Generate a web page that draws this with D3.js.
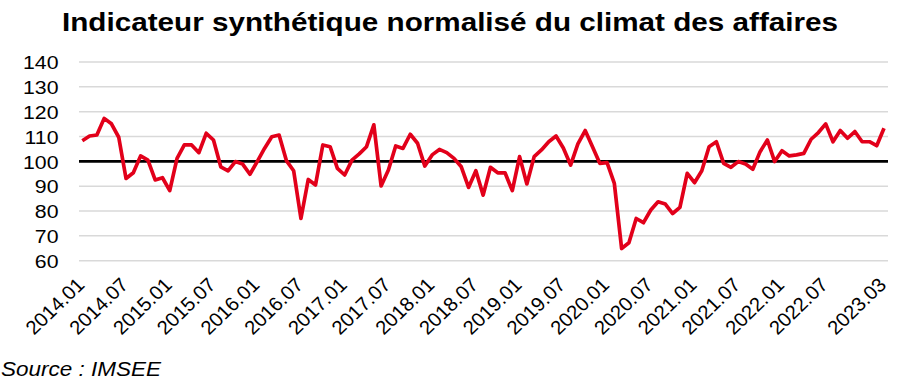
<!DOCTYPE html>
<html>
<head>
<meta charset="utf-8">
<script src="https://cdn.jsdelivr.net/npm/d3@7"></script>
<style>
    body { margin: 0; background: #fff; }
    svg { display: block; font-family: "Liberation Sans", Arial, sans-serif; }
</style>
</head>
<body>
<svg id="chart" width="900" height="383"></svg>
<script>
// indicateur mensuel, 2014.01 -> 2023.03
var values = [
    108.3, 110.2, 110.6, 117.3, 115.1, 109.7, 93.1, 95.4, 102.2, 100.5,
    92.5, 93.4, 88.2, 101.2, 106.6, 106.6, 103.5, 111.3, 108.6, 97.8,
    96.2, 99.9, 98.9, 94.8, 99.9, 105.2, 109.9, 110.6, 100.3, 96.2,
    77.0, 92.7, 90.5, 106.6, 105.9, 97.2, 94.5, 100.5, 103.0, 105.9,
    114.7, 90.1, 96.5, 106.2, 105.2, 110.9, 107.3, 98.1, 102.6, 104.8,
    103.5, 101.2, 97.8, 89.5, 96.2, 86.4, 97.6, 95.4, 95.4, 88.2,
    101.9, 90.9, 101.9, 104.6, 107.9, 110.2, 105.4, 98.5, 107.0, 112.4,
    105.9, 99.2, 99.5, 91.1, 64.9, 67.2, 77.0, 75.3, 80.4, 83.7,
    82.8, 79.0, 81.5, 95.2, 91.4, 96.2, 105.9, 107.9, 99.2, 97.6,
    99.9, 98.9, 96.8, 103.9, 108.6, 99.9, 104.3, 102.2, 102.6, 103.2,
    108.9, 111.6, 115.1, 107.9, 112.4, 109.3, 112.0, 107.9, 107.9, 106.3,
    113.3
];

var years = [2014, 2015, 2016, 2017, 2018, 2019, 2020, 2021, 2022, 2023];

var tickLabels = [
    "2014.01", "2014.07", "2015.01", "2015.07", "2016.01", "2016.07",
    "2017.01", "2017.07", "2018.01", "2018.07", "2019.01", "2019.07",
    "2020.01", "2020.07", "2021.01", "2021.07", "2022.01", "2022.07",
    "2023.03"
];

var yTicks = [60, 70, 80, 90, 100, 110, 120, 130, 140];

// month categories built from the years list
var months = [];
years.forEach(function (y) {
    for (var m = 1; m <= 12; m++) {
        months.push(y + "." + (m < 10 ? "0" + m : m));
    }
});
months = months.slice(0, values.length);

var svg = d3.select("#chart");

var xs = d3.scalePoint().domain(months).range([82.3, 884]);
var ys = d3.scaleLinear().domain([60, 140]).range([260.7, 62]);

var gridLeft = 79, gridRight = 888;
var stretch = 1.15; // the text in the original is a bit wider than Arial

// title
svg.append("text")
    .attr("x", 62)
    .attr("y", 31)
    .attr("font-size", 25.5)
    .attr("font-weight", "bold")
    .attr("fill", "#000")
    .attr("textLength", 776)
    .attr("lengthAdjust", "spacingAndGlyphs")
    .text("Indicateur synthétique normalisé du climat des affaires");

// horizontal gridlines
svg.append("g").selectAll("line").data(yTicks.filter(function (d) { return d !== 100; }))
    .enter().append("line")
    .attr("x1", gridLeft)
    .attr("x2", gridRight)
    .attr("y1", function (d) { return ys(d); })
    .attr("y2", function (d) { return ys(d); })
    .attr("stroke", "#d9d9d9")
    .attr("stroke-width", 1.5);

// y axis labels
var yAxis = d3.axisLeft(ys).tickValues(yTicks).tickSize(0).tickPadding(0);
var gy = svg.append("g").attr("transform", "translate(58.5,0)").call(yAxis);
gy.select(".domain").remove();
gy.selectAll("text")
    .attr("font-family", "Liberation Sans, Arial, sans-serif")
    .attr("font-size", 18.5)
    .attr("fill", "#000")
    .attr("x", 0)
    .attr("dy", "0.36em")
    .attr("transform", "scale(" + stretch + ",1)");

// reference line at 100
svg.append("line")
    .attr("x1", gridLeft)
    .attr("x2", gridRight)
    .attr("y1", ys(100))
    .attr("y2", ys(100))
    .attr("stroke", "#000")
    .attr("stroke-width", 2.6);

// series line
var line = d3.line()
    .x(function (d, i) { return xs(months[i]); })
    .y(function (d) { return ys(d); });

svg.append("path")
    .datum(values)
    .attr("d", line)
    .attr("fill", "none")
    .attr("stroke", "#e2001a")
    .attr("stroke-width", 3.7)
    .attr("stroke-linejoin", "round");

// x axis labels, rotated
var xAxis = d3.axisBottom(xs).tickValues(tickLabels).tickSize(0).tickPadding(0);
var gx = svg.append("g").attr("transform", "translate(0,0)").call(xAxis);
gx.select(".domain").remove();
gx.selectAll("text")
    .attr("font-family", "Liberation Sans, Arial, sans-serif")
    .attr("font-size", 19.5)
    .attr("fill", "#000")
    .attr("text-anchor", "end")
    .attr("y", 0)
    .attr("dy", 0)
    .attr("transform", "translate(3,286) scale(1.04,1) rotate(-45)");

// source
svg.append("text")
    .attr("x", 1)
    .attr("y", 376)
    .attr("font-size", 19.5)
    .attr("font-style", "italic")
    .attr("fill", "#000")
    .attr("textLength", 160)
    .attr("lengthAdjust", "spacingAndGlyphs")
    .text("Source : IMSEE");
</script>
</body>
</html>
